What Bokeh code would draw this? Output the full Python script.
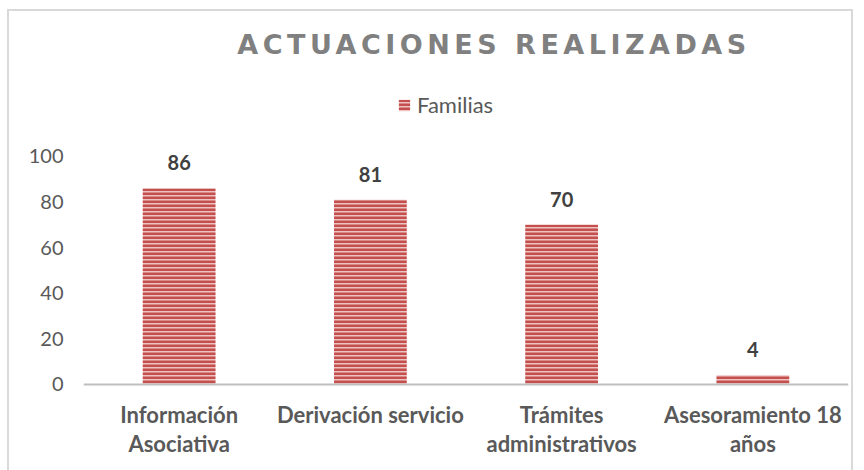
from bokeh.plotting import figure
from bokeh.models import ColumnDataSource, Range1d, FixedTicker, Div, Legend, LegendItem, Span
from bokeh.layouts import column
from bokeh.embed import file_html
from bokeh.resources import INLINE
from bokeh.core.properties import value

# ---- data ----
categories = ["Información Asociativa", "Derivación servicio", "Trámites administrativos", "Asesoramiento 18 años"]
label_lines = ["Información\nAsociativa", "Derivación servicio", "Trámites\nadministrativos", "Asesoramiento 18\naños"]
familias = [86, 81, 70, 4]
y_ticks = [0, 20, 40, 60, 80, 100]
series_name = "Familias"
title_text = "ACTUACIONES REALIZADAS"

FONT = "Lato"
BORDER = "2px solid #D9D9D9"

src = ColumnDataSource(dict(cat=categories, val=familias, lab=[str(v) for v in familias],
                            xl=label_lines, zero=[0] * len(categories)))

p = figure(x_range=categories, y_range=Range1d(-40.4, 130.7), width=846, height=470,
           output_backend="svg", toolbar_location=None,
           min_border_left=74, min_border_right=7, min_border_top=75, min_border_bottom=5,
           styles={"border": BORDER})
p.outline_line_color = None
p.xgrid.grid_line_color = None
p.ygrid.grid_line_color = None
p.xaxis.visible = False

r = p.vbar(x="cat", top="val", width=0.38, source=src,
           fill_color="#EEC2C1", line_color=None,
           hatch_pattern="horizontal_line", hatch_color="#C4504D",
           hatch_scale=4, hatch_weight=3)

p.add_layout(Span(location=0, dimension="width", line_color="#BFBFBF", line_width=2))

p.text(x="cat", y="val", text="lab", source=src, text_align="center", text_baseline="bottom",
       y_offset=-18, text_font=value(FONT), text_font_style="bold", text_font_size="20px",
       text_color="#404040")

p.text(x="cat", y="zero", text="xl", source=src, text_align="center", text_baseline="top",
       y_offset=17, text_font=value(FONT), text_font_style="bold", text_font_size="22px",
       text_color="#595959", text_line_height=1.05)

p.yaxis.ticker = FixedTicker(ticks=y_ticks)
p.yaxis.axis_line_color = None
p.yaxis.major_tick_line_color = None
p.yaxis.minor_tick_line_color = None
p.yaxis.major_tick_out = 0
p.yaxis.major_label_standoff = 20
p.yaxis.major_label_text_font = FONT
p.yaxis.major_label_text_font_size = "20px"
p.yaxis.major_label_text_color = "#595959"

legend = Legend(items=[LegendItem(label=series_name, renderers=[r])], location=(314, 358),
                orientation="horizontal", border_line_color=None, background_fill_alpha=0,
                padding=0, margin=0, glyph_width=14, glyph_height=14, label_standoff=6,
                label_text_font=FONT, label_text_font_size="22px", label_text_color="#595959")
p.add_layout(legend, "center")

title_div = Div(
    text=title_text, width=846, height=50,
    styles={"position": "absolute", "top": "0px", "left": "0px", "z-index": "5",
            "font-family": "DejaVu Sans", "font-weight": "bold", "font-size": "27px",
            "letter-spacing": "4.5px", "color": "#808080", "text-align": "center",
            "padding-left": "118px", "padding-top": "12px", "box-sizing": "border-box"},
)

layout = column(p, title_div, spacing=0,
                styles={"margin-left": "7px", "margin-top": "9px", "position": "relative"})

open("out.html", "w").write(file_html(layout, INLINE))
